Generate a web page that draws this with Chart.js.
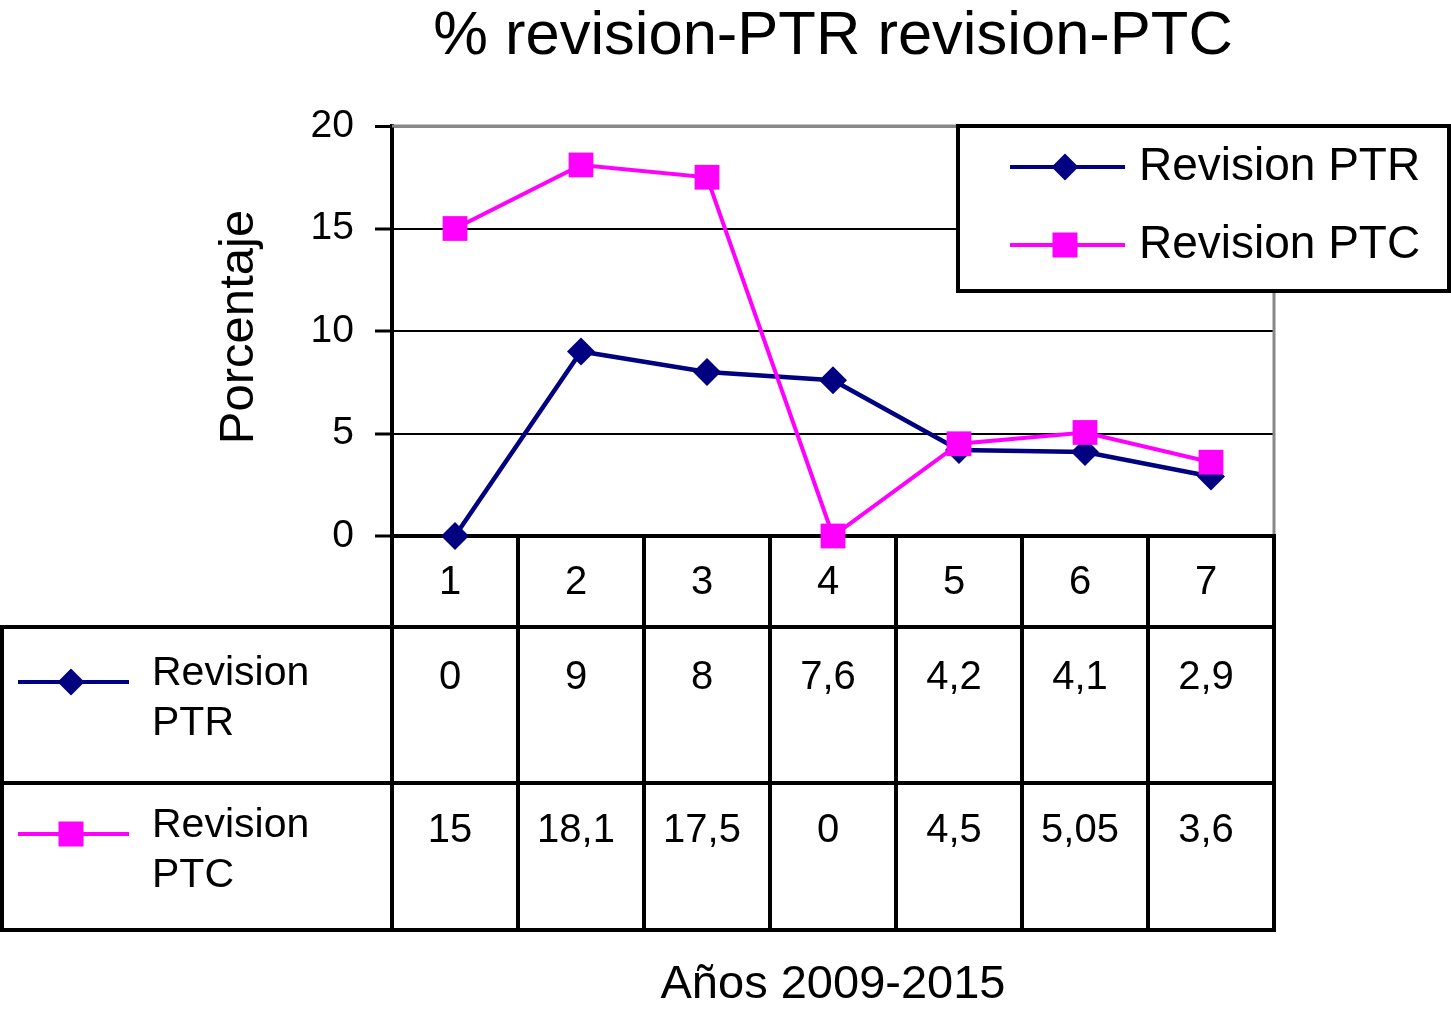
<!DOCTYPE html>
<html>
<head>
<meta charset="utf-8">
<script src="https://cdn.jsdelivr.net/npm/chart.js@4/dist/chart.umd.min.js"></script>
<style>
  html, body { margin: 0; padding: 0; background: #ffffff; }
  #wrap { width: 1451px; height: 1013px; position: relative; }
  canvas { display: block; }
</style>
</head>
<body>
<div id="wrap"><canvas id="c" width="1451" height="1013" style="width:1451px;height:1013px"></canvas></div>
<script>
// ---- data ----
const categories = ['1', '2', '3', '4', '5', '6', '7'];
const ptrValues = [0, 9, 8, 7.6, 4.2, 4.1, 2.9];
const ptcValues = [15, 18.1, 17.5, 0, 4.5, 5.05, 3.6];
const seriesNames = ['Revision PTR', 'Revision PTC'];
const tableRowLabels = [['Revision', 'PTR'], ['Revision', 'PTC']];
const yTickValues = [0, 5, 10, 15, 20];
const chartTitle = '% revision-PTR revision-PTC';
const yAxisTitle = 'Porcentaje';
const xAxisTitle = 'Años 2009-2015';

const FONT = "'Liberation Sans', Arial, Helvetica, sans-serif";
const NAVY = '#000080';
const MAGENTA = '#FF00FF';

function fmt(v) { return String(v).replace('.', ','); }

function drawMarker(ctx, style, x, y, color) {
  ctx.save();
  ctx.fillStyle = color;
  ctx.beginPath();
  if (style === 'rectRot') {
    const r = 13.5;
    ctx.moveTo(x - r, y); ctx.lineTo(x, y - r); ctx.lineTo(x + r, y); ctx.lineTo(x, y + r);
    ctx.closePath();
  } else {
    const h = 12.5;
    ctx.rect(x - h, y - h, 2 * h, 2 * h);
  }
  ctx.fill();
  ctx.restore();
}

const tablePlugin = {
  id: 'dataTable',
  beforeDatasetsDraw(chart) {
    const ctx = chart.ctx;
    const area = chart.chartArea;
    const xs = chart.scales.x;
    const n = categories.length;
    const colW = (area.right - area.left) / n;
    const top = area.bottom;
    const row1 = 627, row2 = 783, bottom = 930;
    ctx.save();
    // right & top plot borders (gray)
    ctx.strokeStyle = '#888888';
    ctx.lineWidth = 3;
    ctx.beginPath();
    ctx.moveTo(area.left, area.top); ctx.lineTo(area.right, area.top);
    ctx.moveTo(area.right, area.top); ctx.lineTo(area.right, area.bottom);
    ctx.stroke();

    ctx.strokeStyle = '#000000';
    ctx.lineWidth = 4;
    ctx.beginPath();
    for (let i = 0; i <= n; i++) {
      const x = area.left + i * colW;
      ctx.moveTo(x, top); ctx.lineTo(x, bottom);
    }
    ctx.moveTo(2, row1); ctx.lineTo(2, bottom);
    [row1, row2, bottom].forEach(y => { ctx.moveTo(0, y); ctx.lineTo(area.right + 2, y); });
    ctx.moveTo(area.left, top); ctx.lineTo(area.right + 2, top);
    ctx.stroke();

    // header numbers
    ctx.fillStyle = '#000';
    ctx.textAlign = 'center';
    ctx.textBaseline = 'alphabetic';
    ctx.font = '40px ' + FONT;
    categories.forEach((c, i) => {
      const cx = xs.getPixelForValue(i) - 5;
      ctx.fillText(c, cx, 594);
    });
    const rows = [ptrValues, ptcValues];
    const baselines = [689, 842];
    rows.forEach((vals, r) => {
      vals.forEach((v, i) => {
        const cx = xs.getPixelForValue(i) - 5;
        ctx.fillText(fmt(v), cx, baselines[r]);
      });
    });

    // row legends
    const ds = chart.data.datasets;
    const lineYs = [682, 834];
    const labelBase = [685, 837];
    ctx.font = '41px ' + FONT;
    ctx.textAlign = 'left';
    ds.forEach((d, r) => {
      ctx.strokeStyle = d.borderColor;
      ctx.lineWidth = 4;
      ctx.beginPath();
      ctx.moveTo(18, lineYs[r]); ctx.lineTo(129, lineYs[r]);
      ctx.stroke();
      drawMarker(ctx, d.pointStyle, 71, lineYs[r], d.borderColor);
      ctx.fillStyle = '#000';
      ctx.fillText(tableRowLabels[r][0], 152, labelBase[r]);
      ctx.fillText(tableRowLabels[r][1], 152, labelBase[r] + 50);
    });
    ctx.restore();
  },
  afterDraw(chart) {
    const ctx = chart.ctx;
    ctx.save();
    // title
    ctx.fillStyle = '#000';
    ctx.textAlign = 'center';
    ctx.textBaseline = 'alphabetic';
    ctx.font = '61.5px ' + FONT;
    ctx.fillText(chartTitle, 833, 54);
    // x title
    ctx.font = '47px ' + FONT;
    ctx.fillText(xAxisTitle, 833, 998);
    // y title
    ctx.save();
    ctx.translate(253, 327);
    ctx.rotate(-Math.PI / 2);
    ctx.font = '49px ' + FONT;
    ctx.fillText(yAxisTitle, 0, 0);
    ctx.restore();

    // legend box
    ctx.fillStyle = '#fff';
    ctx.fillRect(958, 126, 491, 165);
    ctx.strokeStyle = '#000';
    ctx.lineWidth = 4;
    ctx.strokeRect(958, 126, 491, 165);
    const ds = chart.data.datasets;
    const ys = [167, 245];
    ctx.font = '46px ' + FONT;
    ctx.textAlign = 'left';
    ds.forEach((d, i) => {
      ctx.strokeStyle = d.borderColor;
      ctx.lineWidth = 4;
      ctx.beginPath();
      ctx.moveTo(1010, ys[i]); ctx.lineTo(1125, ys[i]);
      ctx.stroke();
      drawMarker(ctx, d.pointStyle, 1065, ys[i], d.borderColor);
      ctx.fillStyle = '#000';
      ctx.fillText(d.label, 1139, ys[i] + 13);
    });
    ctx.restore();
  }
};

new Chart(document.getElementById('c'), {
  type: 'line',
  data: {
    labels: categories,
    datasets: [
      {
        label: seriesNames[0],
        data: ptrValues,
        borderColor: NAVY,
        backgroundColor: NAVY,
        borderWidth: 4.5,
        pointStyle: 'rectRot',
        pointRadius: 14,
        pointHoverRadius: 14,
        pointBorderWidth: 0,
        tension: 0,
        clip: false,
        order: 1
      },
      {
        label: seriesNames[1],
        data: ptcValues,
        borderColor: MAGENTA,
        backgroundColor: MAGENTA,
        borderWidth: 4,
        pointStyle: 'rect',
        pointRadius: 17.5,
        pointHoverRadius: 17.5,
        pointBorderWidth: 0,
        tension: 0,
        clip: false,
        order: 0
      }
    ]
  },
  options: {
    responsive: false,
    animation: false,
    devicePixelRatio: 1,
    layout: { padding: { top: 126, left: 0, right: 177, bottom: 477 } },
    plugins: { legend: { display: false }, title: { display: false }, tooltip: { enabled: false } },
    scales: {
      x: {
        type: 'category',
        offset: true,
        grid: { display: false },
        ticks: { display: false },
        border: { display: true, color: '#000', width: 4 },
        afterFit(s) { s.height = 0; }
      },
      y: {
        min: 0,
        max: 20,
        afterBuildTicks(s) { s.ticks = yTickValues.map(v => ({ value: v })); },
        afterFit(s) { s.width = 392; },
        ticks: {
          color: '#000',
          padding: 21,
          font: { family: FONT, size: 39 }
        },
        grid: {
          color: c => (c.tick && c.tick.value === 20) ? '#888888' : '#000000',
          lineWidth: c => (c.tick && c.tick.value === 20) ? 3 : (c.tick && c.tick.value === 0 ? 4 : 2),
          tickColor: '#000',
          tickWidth: 3,
          tickLength: 17,
          drawTicks: true
        },
        border: { display: true, color: '#000', width: 4 }
      }
    }
  },
  plugins: [tablePlugin]
});
</script>
</body>
</html>
